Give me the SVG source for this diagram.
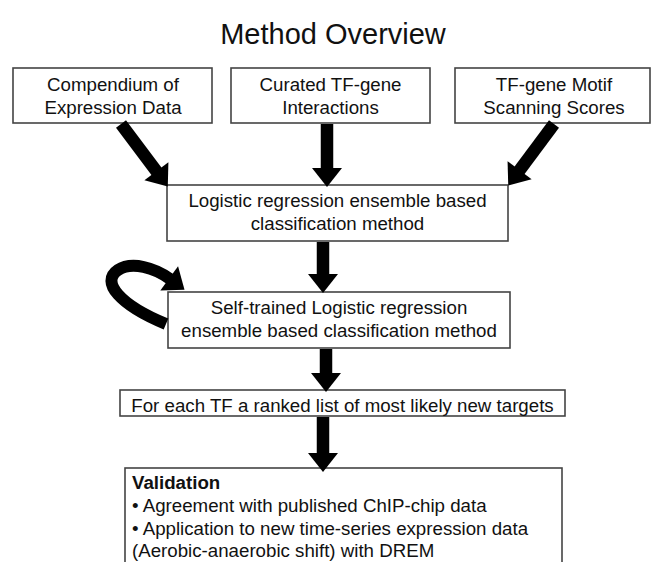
<svg xmlns="http://www.w3.org/2000/svg" width="651" height="562" viewBox="0 0 651 562">
<style>
  .box { fill: #ffffff; stroke: #444444; stroke-width: 1.6; }
  .t { font-family: "Liberation Sans", Arial, sans-serif; font-size: 18.7px; fill: #111111; }
  .c { text-anchor: middle; }
  .title { font-family: "Liberation Sans", Arial, sans-serif; font-size: 29px; fill: #111111; text-anchor: middle; }
  .arr { stroke: #000000; stroke-width: 12.5; fill: none; marker-end: url(#head); }
  .loop { stroke: #000000; stroke-width: 12; fill: none; marker-end: url(#head); }
</style>
<defs>
  <marker id="head" markerUnits="userSpaceOnUse" markerWidth="20" markerHeight="30" refX="1" refY="15" orient="auto" overflow="visible">
    <path d="M0,0 L19,15 L0,30 Z" fill="#000000"/>
  </marker>
</defs>
<rect x="0" y="0" width="651" height="562" fill="#ffffff"/>
<text class="title" x="333" y="44">Method Overview</text>

<g id="compendium">
  <rect class="box" x="13" y="68" width="199" height="55"/>
  <text class="t c" x="113" y="90.5">Compendium of</text>
  <text class="t c" x="113" y="113.5">Expression Data</text>
</g>
<g id="curated">
  <rect class="box" x="231" y="68" width="199" height="55"/>
  <text class="t c" x="330.5" y="90.5">Curated TF-gene</text>
  <text class="t c" x="330.5" y="113.5">Interactions</text>
</g>
<g id="motif">
  <rect class="box" x="455" y="68" width="195" height="55"/>
  <text class="t c" x="554" y="90.5">TF-gene Motif</text>
  <text class="t c" x="554" y="113.5">Scanning Scores</text>
</g>
<g id="logistic">
  <rect class="box" x="167" y="185" width="341" height="56"/>
  <text class="t c" x="337.5" y="207">Logistic regression ensemble based</text>
  <text class="t c" x="337.5" y="230">classification method</text>
</g>
<g id="selftrained">
  <rect class="box" x="168" y="292" width="342" height="56"/>
  <text class="t c" x="339" y="313.5">Self-trained Logistic regression</text>
  <text class="t c" x="339" y="336.5">ensemble based classification method</text>
</g>
<g id="ranked">
  <rect class="box" x="120" y="390" width="445" height="26"/>
  <text class="t c" x="342.5" y="411.5">For each TF a ranked list of most likely new targets</text>
</g>
<g id="validation">
  <rect class="box" x="125" y="468" width="437" height="110"/>
  <text class="t" x="132" y="489" font-weight="bold">Validation</text>
  <text class="t" x="132" y="512">• Agreement with published ChIP-chip data</text>
  <text class="t" x="132" y="535">• Application to new time-series expression data</text>
  <text class="t" x="132" y="557">(Aerobic-anaerobic shift) with DREM</text>
</g>

<g id="connectors">
  <line class="arr" x1="121" y1="124" x2="157" y2="172"/>
  <line class="arr" x1="327" y1="124" x2="327" y2="169"/>
  <line class="arr" x1="554" y1="124" x2="519" y2="171"/>
  <line class="arr" x1="323" y1="242" x2="323" y2="275"/>
  <line class="arr" x1="326" y1="349" x2="326" y2="374"/>
  <line class="arr" x1="323" y1="417" x2="323" y2="454"/>
  <path class="loop" d="M166,324 C120,305 100,282 118,270 C132,261 155,268 170,279"/>
</g>
</svg>
